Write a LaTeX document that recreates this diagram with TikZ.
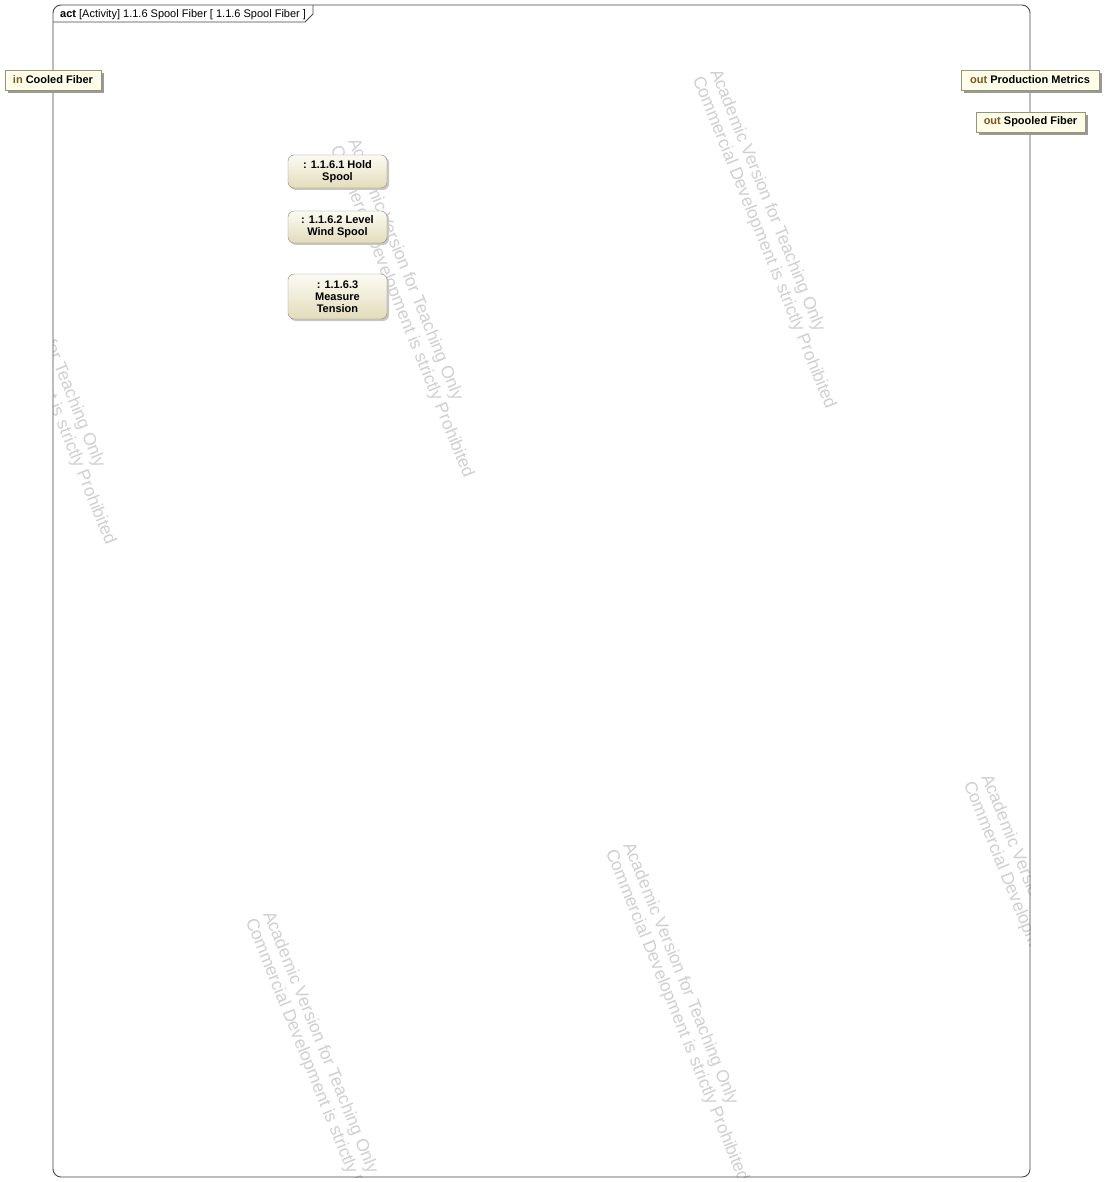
\documentclass[tikz,border=0pt]{standalone}
\usepackage{fontspec}
\setmainfont{Liberation Sans}
\usetikzlibrary{shadows}
\definecolor{pinfill}{RGB}{254,254,232}
\definecolor{pinline}{RGB}{150,150,118}
\definecolor{actline}{RGB}{138,138,110}
\definecolor{acttop}{RGB}{252,251,243}
\definecolor{actbot}{RGB}{226,220,186}
\definecolor{dirword}{RGB}{128,84,32}
\definecolor{wmgray}{RGB}{208,208,208}
\definecolor{frameline}{RGB}{70,70,70}

\begin{document}
\begin{tikzpicture}[x=1pt, y=-1pt, font=\fontsize{11}{12}\selectfont,
pinbox/.style={draw=pinline, fill=pinfill, minimum height=20pt, inner sep=0pt, font=\fontsize{11}{12}\selectfont\bfseries, drop shadow={shadow xshift=3pt, shadow yshift=-3pt, fill=black!40, opacity=1}},
actbox/.style={draw=actline, rounded corners=6pt, top color=acttop, bottom color=actbot, minimum width=99pt, inner sep=0pt, align=center, font=\fontsize{11}{12}\selectfont\bfseries, drop shadow={shadow xshift=2pt, shadow yshift=-2pt, fill=black!22, opacity=1}},
wm/.style={anchor=north west, rotate=-68, inner sep=0pt, align=left, text=wmgray, font=\fontsize{17.5}{19}\selectfont}]

\useasboundingbox (0,0) rectangle (1104,1182);
\fill[white] (0,0) rectangle (1104,1182);

% watermarks
\begin{scope}
\clip[rounded corners=8pt] (53,5) rectangle (1030,1177);
\foreach \wx/\wy [count=\i] in {722/67, 360/136, 2/203, 993/772, 635/840, 275/909}
  \node[wm] (wm\i) at (\wx,\wy) {Academic Version for Teaching Only\\Commercial Development is strictly Prohibited};
\end{scope}

% frame and header
\draw[frameline, line width=0.9pt, rounded corners=8pt] (53,5) rectangle (1030,1177);
\draw[frameline, line width=0.9pt] (53,22) -- (305,22) -- (313,14) -- (313,5);
\node[anchor=base west, inner sep=0pt] (title) at (60,18) {\textbf{act} [Activity]\ 1.1.6 Spool Fiber [\ 1.1.6 Spool Fiber ]};

% actions
\node[actbox, minimum height=33pt] (hold) at (337.5,171.5) {: 1.1.6.1 Hold\\Spool};
\node[actbox, minimum height=32pt] (level) at (337.5,227) {: 1.1.6.2 Level\\Wind Spool};
\node[actbox, minimum height=45pt] (measure) at (337.5,296.5) {: 1.1.6.3\\Measure\\Tension};

% parameter pins
\node[pinbox, minimum width=96pt] (cooled) at (53,80) {\textcolor{dirword}{in} Cooled Fiber};
\node[pinbox, minimum width=138pt] (metrics) at (1030,80) {\textcolor{dirword}{out} Production Metrics};
\node[pinbox, minimum width=109pt] (spooled) at (1030.5,122) {\textcolor{dirword}{out} Spooled Fiber};
\end{tikzpicture}
\end{document}
